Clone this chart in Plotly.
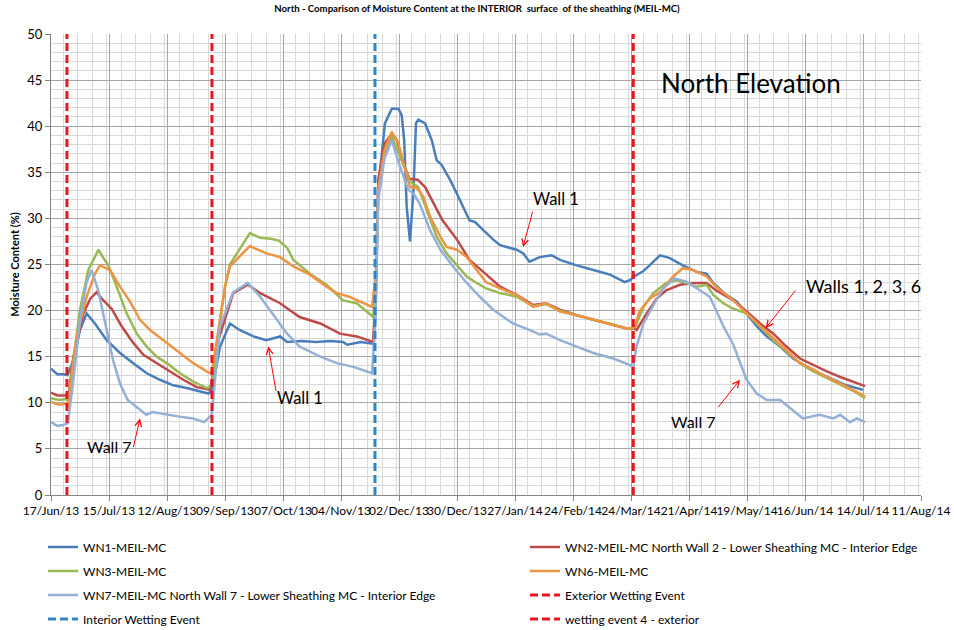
import pandas as pd
import plotly.graph_objects as go

# ---------------- data (days since 17/Jun/2013, moisture content %) ----------------
BASE = pd.Timestamp("2013-06-17")

wn1_days = [0, 3, 6, 8, 10.8, 14, 17.2, 21.2, 26.9, 33.3, 39.7, 46.2, 52.6, 59, 65.5, 72, 76, 77.7,
            81.6, 86.4, 91, 97.7, 104, 110.6, 114, 121, 128, 135, 141, 143, 149.6, 155.8,
            156.6, 158, 161.2, 164.5, 167.7, 169.3, 170.5, 171.7, 173.3, 175, 176.2, 177.3, 180.6, 183.8,
            186.2, 188.6, 192.6, 195.9, 199, 202, 204.7, 208.7, 213.5, 216.8, 224.8, 228, 231, 236,
            241.7, 245.7, 253.8, 261.8, 269.9, 277, 279.5, 281.5,
            286, 289, 294, 298.8, 305, 311.7, 316.5, 319.7, 326, 331, 335.8, 340.7, 345.5, 352, 358.3,
            364.8, 371, 377.7, 384, 392]
wn1_mc = [13.7, 13.1, 13.1, 13.0, 14.6, 17.9, 19.7, 18.6, 16.8, 15.4, 14.3, 13.2, 12.5, 11.9, 11.6, 11.2, 11.0, 11.3,
          16.1, 18.6, 17.9, 17.2, 16.8, 17.2, 16.6, 16.7, 16.6, 16.7, 16.6, 16.3, 16.6, 16.4,
          20.0, 33.1, 40.3, 41.9, 41.9, 41.2, 38.5, 31.3, 27.5, 33.1, 40.3, 40.7, 40.3, 38.5,
          36.3, 35.8, 34.2, 32.7, 31.3, 29.8, 29.6, 28.7, 27.7, 27.1, 26.6, 26.2, 25.3, 25.8,
          26.0, 25.5, 24.9, 24.4, 23.9, 23.1, 23.3, 23.7,
          24.3, 24.9, 26.0, 25.7, 24.9, 24.2, 24.0, 23.0, 21.7, 21.0, 19.7, 18.3, 17.2, 16.1, 14.8,
          13.9, 13.2, 12.5, 11.9, 11.4]

wn2_days = [0, 3, 7, 8.4, 10.8, 15.6, 19, 22, 25.3, 29.3, 34.1, 39.7, 44.6, 51, 57.4, 63.9, 70.3, 76.8,
            81, 88, 95, 101, 110.6, 120, 130, 139.5, 147.6, 155.5,
            156.8, 158, 161, 164.5, 167, 170, 173, 177, 180.6, 184.6, 189, 196, 202, 208.7, 216.8, 224.8,
            232.8, 239, 245.7, 253.8, 261.8, 271.5, 278.7, 281.2,
            282.7, 287.6, 292.4, 297, 303.6, 310, 316.5, 321, 329.4, 335.8, 342.3, 348.7, 355, 361.6,
            368, 374.5, 381, 387.3, 393]
wn2_mc = [11.1, 10.8, 10.8, 10.6, 15.0, 19.7, 21.3, 22.0, 21.1, 20.2, 18.3, 16.5, 15.2, 14.3, 13.4, 12.5, 11.7, 11.4,
          17.0, 21.9, 22.8, 21.9, 20.8, 19.3, 18.6, 17.5, 17.2, 16.6,
          22.0, 34.2, 38.1, 39.2, 38.5, 36.0, 34.3, 34.2, 33.4, 31.6, 29.8, 27.7, 25.5, 24.2, 22.6, 21.7,
          20.6, 20.8, 20.1, 19.5, 19.0, 18.4, 18.0, 18.1,
          17.9, 19.7, 21.3, 22.2, 22.8, 23.0, 23.0, 22.2, 21.1, 19.9, 18.6, 17.5, 16.1, 14.8,
          14.1, 13.4, 12.8, 12.3, 11.8]

wn3_days = [0, 4, 7, 8.4, 11, 14, 18, 22.9, 25.3, 27.7, 31.7, 36.5, 41.4, 46.2, 51, 55.9, 62.3, 68.7, 75.2, 77.6,
            81.6, 84, 86.4, 90, 96, 101, 106, 110, 114, 117, 125, 133, 141, 147.6, 152.4, 155.6,
            156.8, 158, 161, 164.5, 168.5, 173.3, 177.3, 181.4, 186.2, 191, 195.9, 200.7, 205.5, 210, 216.8,
            224.8, 232.8, 239, 245.7, 253.8, 261.8, 271.5, 278.7,
            282, 286, 290.8, 297, 302, 307, 311.7, 316.5, 319.7, 324.6, 329.4, 335.8, 342.3, 348.7, 355,
            361.6, 368, 374.5, 381, 387.3, 393]
wn3_mc = [10.5, 10.3, 10.4, 10.2, 15.0, 20.1, 24.4, 26.6, 25.7, 24.9, 22.6, 19.7, 17.5, 16.1, 15.0, 14.3, 13.2, 12.3, 11.6, 11.9,
          19.0, 22.6, 25.0, 26.3, 28.4, 27.9, 27.8, 27.6, 26.8, 25.5, 24.0, 22.8, 21.1, 20.8, 19.9, 19.3,
          23.0, 33.0, 37.0, 38.9, 36.7, 34.0, 33.4, 30.9, 28.0, 26.2, 24.9, 23.7, 23.0, 22.4, 21.9,
          21.5, 20.5, 20.7, 20.0, 19.5, 19.0, 18.5, 18.0,
          18.2, 20.4, 21.9, 23.0, 23.3, 23.0, 22.6, 22.8, 21.7, 20.8, 20.2, 19.7, 18.3, 16.8, 15.6,
          14.3, 13.4, 12.7, 12.0, 11.3, 10.5]

wn6_days = [0, 4, 7, 8.4, 12.4, 17.2, 21.2, 23.7, 28.5, 33.3, 38.1, 43, 47.8, 55.9, 62.3, 68.7, 75.9, 77.6,
            81.6, 84, 86.4, 90, 96, 104, 110.6, 117, 125, 133, 138, 144, 151, 155,
            156.8, 158, 161, 164.5, 167.7, 171, 173.3, 176.5, 179.7, 183, 188, 191, 196, 200.7, 205.5, 210,
            216.8, 224.8, 232.8, 239, 245.7, 253.8, 261.8, 271.5, 278.7,
            282, 284, 289, 294, 300.4, 305, 310, 316.5, 321, 329.4, 335.8, 342.3, 348.7, 355, 361.6, 368,
            374.5, 381, 387.3, 393]
wn6_mc = [10.1, 9.8, 9.9, 9.7, 17.2, 21.5, 24.0, 24.9, 24.4, 22.6, 21.0, 19.0, 17.9, 16.5, 15.4, 14.3, 13.3, 13.2,
          19.0, 22.6, 24.8, 25.6, 27.0, 26.2, 25.8, 24.8, 23.9, 22.6, 21.9, 21.5, 20.8, 20.4,
          24.0, 33.1, 37.4, 39.4, 38.1, 35.2, 33.4, 33.3, 32.4, 30.2, 28.0, 26.9, 26.6, 25.8, 24.4, 23.1,
          22.4, 21.7, 20.4, 20.8, 19.9, 19.5, 19.0, 18.4, 18.0,
          18.3, 19.9, 21.3, 22.0, 23.7, 24.6, 24.4, 23.7, 22.6, 21.1, 19.7, 18.3, 17.0, 15.7, 14.3, 13.6,
          12.8, 12.1, 11.4, 10.7]

wn7_days = [0, 3, 6, 8.2, 10.8, 14, 17.2, 19.6, 22.8, 26.9, 30, 33.3, 37, 41, 46, 49, 56, 62, 68.6, 74, 77.6,
            81.6, 88, 95, 101, 107, 114, 120, 130, 138, 146, 155,
            156.8, 158, 161, 164.5, 168.5, 172.5, 175, 178, 183, 188, 194, 200.7, 207, 213.5, 223, 231,
            236, 239, 245.7, 253.8, 261.8, 271.5, 279.5, 281,
            282.7, 286, 290.8, 295.6, 301, 307, 311.7, 318, 321, 324.6, 329.4, 332.6, 335.8, 340.7, 345.5,
            352, 358.3, 363, 371, 377.7, 381, 385.7, 389, 393]
wn7_mc = [7.9, 7.5, 7.6, 7.8, 12.5, 19.0, 23.1, 24.4, 22.2, 17.9, 14.6, 12.1, 10.3, 9.6, 8.7, 9.0, 8.7, 8.5, 8.3, 7.9, 8.7,
          18.3, 22.0, 23.0, 21.5, 19.7, 17.5, 16.1, 15.0, 14.3, 13.9, 13.2,
          20.0, 32.0, 36.5, 38.5, 35.6, 33.1, 32.7, 31.6, 28.7, 26.6, 24.8, 23.0, 21.5, 20.1, 18.6, 17.9,
          17.4, 17.5, 16.8, 16.1, 15.4, 14.8, 14.1, 13.8,
          16.1, 18.6, 20.6, 22.4, 23.5, 23.1, 22.4, 21.5, 20.1, 18.3, 16.3, 14.3, 12.5, 11.0, 10.3,
          10.3, 9.2, 8.3, 8.7, 8.3, 8.7, 7.9, 8.3, 7.9]

exterior_event_days = [7.7, 77.7]
interior_event_day = 156.4
event4_day = 281.1

tick_count = 16          # 17/Jun/13 ... 11/Aug/14, every 28 days
y_range = [0, 50]


def dates(days):
    return [BASE + pd.Timedelta(days=d) for d in days]


FONT = "Lato, 'Open Sans', sans-serif"

series = [
    ("WN1-MEIL-MC", wn1_days, wn1_mc, "#4A7EBB", "legend", "g1"),
    ("WN2-MEIL-MC North Wall 2 - Lower Sheathing MC - Interior Edge", wn2_days, wn2_mc, "#BE4B48", "legend2", "g2"),
    ("WN3-MEIL-MC", wn3_days, wn3_mc, "#98B954", "legend", "g3"),
    ("WN6-MEIL-MC", wn6_days, wn6_mc, "#EE9443", "legend2", "g4"),
    ("WN7-MEIL-MC North Wall 7 - Lower Sheathing MC - Interior Edge", wn7_days, wn7_mc, "#95B0D6", "legend", "g5"),
]

fig = go.Figure()
for name, d, v, c, lg, grp in series:
    fig.add_trace(go.Scatter(x=dates(d), y=v, mode="lines", name=name,
                             line=dict(color=c, width=2.5), legend=lg, legendgroup=grp))

# event lines
ext_x, ext_y = [], []
for d in exterior_event_days:
    ext_x += [BASE + pd.Timedelta(days=d)] * 2 + [None]
    ext_y += [y_range[0], y_range[1], None]
fig.add_trace(go.Scatter(x=ext_x, y=ext_y, mode="lines", name="Exterior Wetting Event",
                         line=dict(color="#E8171D", width=3, dash="8px,4px"),
                         legend="legend2", legendgroup="g6"))
fig.add_trace(go.Scatter(x=[BASE + pd.Timedelta(days=interior_event_day)] * 2, y=y_range, mode="lines",
                         name="Interior Wetting Event",
                         line=dict(color="#2E86C8", width=3, dash="8px,4px"),
                         legend="legend", legendgroup="g7"))
fig.add_trace(go.Scatter(x=[BASE + pd.Timedelta(days=event4_day)] * 2, y=y_range, mode="lines",
                         name="wetting event 4 - exterior",
                         line=dict(color="#E8171D", width=3, dash="8px,4px"),
                         legend="legend2", legendgroup="g8"))

# annotations
def D(d):
    return BASE + pd.Timedelta(days=d)

texts = [
    ("North Elevation", 338, 44.7, 26),
    ("Wall 1", 243.8, 32.1, 16.5),
    ("Wall 1", 120.2, 10.5, 16.5),
    ("Wall 7", 28, 5.3, 16),
    ("Wall 7", 310, 8.0, 16),
    ("Walls 1, 2, 3, 6", 392.3, 22.7, 18),
]
arrows = [
    (227.9, 26.9, 10, -37),
    (104.9, 16.1, 8, 46),
    (43, 8.3, -7, 30),
    (332.6, 12.5, -23, 29),
    (345, 18.1, 31, -39),
]
anns = []
for t, d, v, s in texts:
    anns.append(dict(x=D(d), y=v, xref="x", yref="y", text=t, showarrow=False,
                     font=dict(family=FONT, size=s, color="#000000"),
                     xanchor="center", yanchor="middle"))
for d, v, ax, ay in arrows:
    anns.append(dict(x=D(d), y=v, xref="x", yref="y", text="", showarrow=True,
                     ax=ax, ay=ay, arrowcolor="#FF0000", arrowwidth=1,
                     arrowhead=5, arrowsize=1.3))

grid_major = "#A6A6A6"
grid_minor = "#D9D9D9"

fig.update_layout(
    width=954, height=630, autosize=False,
    margin=dict(l=51, r=33, t=34, b=135, autoexpand=False),
    paper_bgcolor="white", plot_bgcolor="white",
    font=dict(family=FONT, color="#000000"),
    title=dict(text="<b>North - Comparison of Moisture Content at the INTERIOR  surface  of the sheathing (MEIL-MC)</b>",
               x=0.5, xanchor="center", y=1 - 9 / 630, yanchor="middle", yref="container",
               font=dict(family=FONT, size=9.6, color="#000000")),
    xaxis=dict(type="date", automargin=False,
               range=[BASE, BASE + pd.Timedelta(days=28 * (tick_count - 1))],
               tickmode="linear", tick0=BASE, dtick=28 * 86400000,
               tickformat="%d/%b/%y", tickangle=0,
               tickfont=dict(family=FONT, size=12, color="#000000"),
               showgrid=True, gridcolor=grid_major, gridwidth=1,
               minor=dict(dtick=7 * 86400000, showgrid=True, gridcolor=grid_minor, gridwidth=1),
               ticks="outside", ticklen=5, tickcolor="#868686",
               showline=True, linecolor="#868686", linewidth=1, zeroline=False),
    yaxis=dict(range=y_range, dtick=5, tick0=0, automargin=False,
               tickfont=dict(family=FONT, size=13, color="#000000"),
               showgrid=True, gridcolor=grid_major, gridwidth=1,
               minor=dict(dtick=1, showgrid=True, gridcolor=grid_minor, gridwidth=1),
               ticks="outside", ticklen=5, tickcolor="#868686",
               showline=True, linecolor="#868686", linewidth=1, zeroline=False,
               title=dict(text="<b>Moisture Content (%)</b>", font=dict(family=FONT, size=11, color="#000000"),
                          standoff=5)),
    legend=dict(x=(43 - 51) / 870, y=-(532.5 - 495) / 461, xanchor="left", yanchor="top",
                traceorder="grouped", tracegroupgap=5, bgcolor="rgba(0,0,0,0)",
                font=dict(family=FONT, size=12, color="#000000")),
    legend2=dict(x=(525 - 51) / 870, y=-(532.5 - 495) / 461, xanchor="left", yanchor="top",
                 traceorder="grouped", tracegroupgap=5, bgcolor="rgba(0,0,0,0)",
                 font=dict(family=FONT, size=12, color="#000000")),
    annotations=anns,
    showlegend=True,
)

fig.write_html("out.html", config={"displayModeBar": False},
               post_script="document.body.style.margin='0';document.body.style.overflow='hidden';")
